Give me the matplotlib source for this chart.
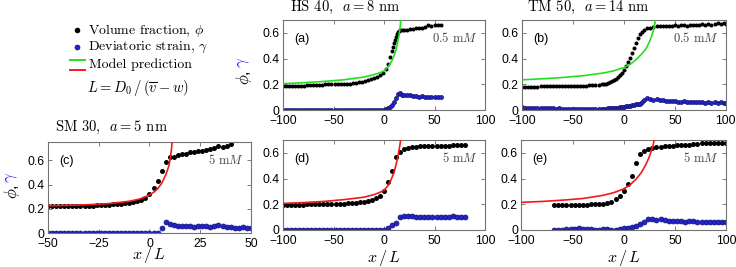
import numpy as np
import matplotlib
matplotlib.use('Agg')
import matplotlib.pyplot as plt
from matplotlib.lines import Line2D

plt.rcParams['font.family'] = ['Liberation Sans', 'DejaVu Sans']
plt.rcParams['mathtext.fontset'] = 'cm'
plt.rcParams['axes.unicode_minus'] = True

# ---------------- dati ----------------
# (a) HS 40, a = 8 nm, 0.5 mM
xa_phi = [-100, -97, -94, -91, -88, -85, -82, -79, -76, -73, -70, -67, -64, -61, -58, -55, -52,
          -49, -46, -43, -40, -37, -34, -31, -28, -25, -22, -19, -16, -13, -10, -7, -4, -1,
          2, 4, 6, 8, 9, 10, 11, 12, 13, 14, 15, 16, 18, 20,
          23, 26, 29, 32, 35, 38, 41, 44, 47, 50, 53, 56]
ya_phi = [0.19, 0.19, 0.19, 0.19, 0.19, 0.19, 0.19, 0.19, 0.195, 0.195, 0.195, 0.195, 0.195, 0.195,
          0.2, 0.2, 0.2, 0.2, 0.2, 0.2, 0.2, 0.205, 0.205, 0.21, 0.21, 0.215, 0.22, 0.225, 0.23,
          0.24, 0.25, 0.26, 0.27, 0.29,
          0.32, 0.36, 0.41, 0.46, 0.49, 0.52, 0.545, 0.57, 0.59, 0.61, 0.615, 0.62, 0.62, 0.62,
          0.625, 0.63, 0.63, 0.635, 0.64, 0.64, 0.645, 0.66, 0.65, 0.66, 0.665, 0.66]
xa_gam = [-100, -97, -94, -91, -88, -85, -82, -79, -76, -73, -70, -67, -64, -61, -58, -55, -52,
          -49, -46, -43, -40, -37, -34, -31, -28, -25, -22, -19, -16, -13, -10, -7, -4, -1,
          2, 4, 6, 8, 10, 12, 14, 16, 18, 20, 23, 26, 29, 32, 35, 38, 41, 44, 47, 50, 53, 56]
ya_gam = [0.003] * 34 + [0.008, 0.015, 0.025, 0.04, 0.06, 0.09, 0.125, 0.13, 0.12, 0.12, 0.115,
                         0.115, 0.11, 0.11, 0.105, 0.11, 0.1, 0.105, 0.1, 0.105, 0.1, 0.1]
xa_mod = [-100, -80, -60, -40, -20, -10, -4, 0, 4, 8, 11, 13, 14.5, 15.5, 16.3, 17]
ya_mod = [0.205, 0.212, 0.222, 0.235, 0.256, 0.275, 0.29, 0.305, 0.335, 0.385, 0.445, 0.505, 0.565,
          0.62, 0.67, 0.74]

# (b) TM 50, a = 14 nm, 0.5 mM
xb = [-100, -97, -94, -91, -88, -85, -82, -79, -76, -73, -70, -67, -64, -61, -58, -55, -52, -49,
      -46, -43, -40, -37, -34, -31, -28, -25, -22,
      -20, -18, -16, -14, -12, -10, -8, -6, -4, -2, 0, 2, 4, 6, 8, 10, 12, 14, 16, 18, 20,
      23, 26, 29, 32, 35, 38, 41, 44, 47, 50, 53, 56, 59, 62, 65, 68, 71, 74, 77, 80, 83, 86,
      89, 92, 95, 98, 100]
yb_phi = [0.178, 0.18, 0.18, 0.182, 0.18, 0.182, 0.183, 0.183, 0.185, 0.185, 0.185, 0.185, 0.186,
          0.186, 0.187, 0.187, 0.188, 0.188, 0.19, 0.19, 0.19, 0.19, 0.192, 0.193, 0.195, 0.197, 0.2,
          0.203, 0.206, 0.21, 0.215, 0.222, 0.23, 0.24, 0.255, 0.27, 0.29, 0.315, 0.34, 0.37, 0.405,
          0.44, 0.48, 0.52, 0.56, 0.59, 0.61, 0.625,
          0.635, 0.64, 0.645, 0.65, 0.655, 0.65, 0.655, 0.65, 0.655, 0.66, 0.655, 0.66, 0.66, 0.655,
          0.66, 0.665, 0.66, 0.665, 0.67, 0.665, 0.67, 0.665, 0.67, 0.675, 0.67, 0.675, 0.67]
yb_gam = [0.02, 0.018, 0.015, 0.017, 0.015, 0.014, 0.013, 0.014, 0.013, 0.012, 0.012, 0.011, 0.012,
          0.011, 0.01, 0.011, 0.01, 0.011, 0.01, 0.01, 0.009, 0.01, 0.01, 0.009, 0.01, 0.011, 0.01,
          0.01, 0.011, 0.012, 0.012, 0.013, 0.015, 0.016, 0.018, 0.02, 0.022, 0.025, 0.028, 0.031,
          0.034, 0.037, 0.04, 0.045, 0.05, 0.05, 0.06, 0.075,
          0.09, 0.085, 0.08, 0.088, 0.08, 0.074, 0.07, 0.068, 0.07, 0.067, 0.065, 0.066, 0.068,
          0.065, 0.062, 0.066, 0.063, 0.06, 0.064, 0.058, 0.062, 0.056, 0.06, 0.058, 0.06, 0.058, 0.058]
xb_mod = [-100, -80, -60, -40, -20, -10, 0, 7, 13, 18, 22, 25, 27.5, 29.3, 30.5, 31.2]
yb_mod = [0.235, 0.243, 0.253, 0.267, 0.288, 0.305, 0.33, 0.36, 0.4, 0.44, 0.48, 0.53, 0.58, 0.63, 0.68, 0.73]

# (c) SM 30, a = 5 nm, 5 mM
xc_phi = [-50, -48, -46, -44, -42, -40, -38, -36, -34, -32, -30, -28, -26, -24, -22, -20, -18,
          -16, -14, -12, -10, -8, -6, -4, -2,
          0, 2, 4, 6, 8, 10, 12, 14, 16, 18, 20, 22, 24, 26, 28, 30, 32, 34, 36, 38, 40]
yc_phi = [0.22, 0.22, 0.22, 0.22, 0.221, 0.222, 0.222, 0.223, 0.224, 0.225, 0.226, 0.227, 0.228,
          0.23, 0.232, 0.234, 0.236, 0.238, 0.241, 0.245, 0.25, 0.256, 0.264, 0.276, 0.29,
          0.32, 0.37, 0.43, 0.51, 0.585, 0.625, 0.63, 0.64, 0.65, 0.655, 0.665, 0.67, 0.68, 0.68,
          0.685, 0.69, 0.7, 0.715, 0.71, 0.72, 0.73]
xc_gam = [-50, -48, -46, -44, -42, -40, -38, -36, -34, -32, -30, -28, -26, -24, -22, -20, -18,
          -16, -14, -12, -10, -8, -6, -4, -2, 0, 2, 4,
          6, 8, 10, 12, 14, 16, 18, 20, 22, 24, 26, 28, 30, 32, 34, 36, 38, 40, 42, 44, 46, 48, 50]
yc_gam = [0.002] * 28 + [0.04, 0.095, 0.075, 0.065, 0.06, 0.055, 0.06, 0.055, 0.05, 0.06, 0.055,
                         0.055, 0.05, 0.055, 0.07, 0.06, 0.05, 0.05, 0.04, 0.045, 0.05, 0.04, 0.04]
xc_mod = [-50, -40, -30, -20, -10, -5, -2, 0, 2, 4, 6, 8, 9.5, 10.3, 10.9, 11.2]
yc_mod = [0.225, 0.228, 0.234, 0.243, 0.262, 0.28, 0.3, 0.315, 0.335, 0.365, 0.41, 0.48, 0.55,
          0.62, 0.7, 0.78]

# (d) HS 40, 5 mM
xd = [-100, -96, -92, -88, -84, -80, -76, -72, -68, -64, -60, -56, -52, -48, -44, -40, -36, -32,
      -28, -24, -20, -16, -12, -8, -4,
      0, 4, 8, 12, 16, 20, 24, 28, 32, 36, 40, 44, 48, 52, 56, 60, 64, 68, 72, 76, 80]
yd_phi = [0.195, 0.196, 0.197, 0.197, 0.198, 0.198, 0.199, 0.2, 0.2, 0.2, 0.201, 0.202, 0.202,
          0.203, 0.204, 0.205, 0.207, 0.209, 0.212, 0.215, 0.22, 0.226, 0.234, 0.246, 0.264,
          0.3, 0.37, 0.46, 0.57, 0.61, 0.63, 0.64, 0.645, 0.648, 0.65, 0.65, 0.652, 0.654, 0.655,
          0.655, 0.656, 0.657, 0.658, 0.658, 0.66, 0.66]
yd_gam = [0.003] * 26 + [0.015, 0.04, 0.055, 0.1, 0.11, 0.11, 0.105, 0.102, 0.1, 0.1, 0.1, 0.1,
                         0.1, 0.1, 0.103, 0.1, 0.105, 0.1, 0.1, 0.1]
xd_mod = [-100, -80, -60, -40, -20, -10, -4, 0, 4, 7, 10, 12, 14, 15.5, 16.7, 17.5]
yd_mod = [0.207, 0.213, 0.222, 0.236, 0.255, 0.275, 0.293, 0.31, 0.345, 0.39, 0.45, 0.51, 0.585,
          0.65, 0.71, 0.77]

# (e) TM 50, 5 mM
xe = [-68, -64, -60, -56, -52, -48, -44, -40, -36, -32, -28, -24, -20, -16, -12, -8, -4,
      0, 4, 8, 12, 16, 20, 24, 28, 32, 36, 40, 44, 48, 52, 56, 60, 64, 68, 72, 76, 80, 84, 88,
      92, 96, 100]
ye_phi = [0.195, 0.195, 0.195, 0.196, 0.196, 0.197, 0.197, 0.198, 0.198, 0.199, 0.2, 0.202, 0.205,
          0.21, 0.22, 0.24, 0.265,
          0.3, 0.36, 0.42, 0.52, 0.59, 0.615, 0.63, 0.64, 0.645, 0.648, 0.65, 0.652, 0.655, 0.658,
          0.66, 0.663, 0.665, 0.668, 0.67, 0.674, 0.675, 0.677, 0.678, 0.68, 0.68, 0.68]
ye_gam = [0.002, 0.002, 0.003, 0.005, 0.008, 0.01, 0.012, 0.01, 0.008, 0.005, 0.003, 0.003, 0.006,
          0.004, 0.002, 0.003, 0.006,
          0.012, 0.018, 0.022, 0.03, 0.045, 0.065, 0.082, 0.085, 0.078, 0.082, 0.075, 0.072, 0.07,
          0.07, 0.068, 0.066, 0.068, 0.07, 0.066, 0.064, 0.065, 0.063, 0.06, 0.062, 0.06, 0.06]
xe_mod = [-100, -80, -60, -40, -20, -10, 0, 6, 12, 17, 21, 24.5, 27, 28.8, 30, 30.8]
ye_mod = [0.215, 0.222, 0.232, 0.245, 0.27, 0.29, 0.32, 0.35, 0.395, 0.445, 0.5, 0.56, 0.615,
          0.665, 0.71, 0.77]

GREEN = '#22e01e'
RED = '#f21a1a'
BLUE = '#2424c8'
SERIF = 'cmr10'


def draw_panel(ax, xp, yp, xg, yg, xm, ym, col, letter, conc, xlim, xticks, ylim, ms):
    ax.plot(xm, ym, '-', color=col, lw=1.2, zorder=3)
    ax.plot(xp, yp, 'o', color='k', ms=ms, mew=0, zorder=2)
    ax.plot(xg, yg, 'o', color=BLUE, mec='#10107a', ms=ms, mew=0.5, zorder=2)
    ax.set_xlim(xlim)
    ax.set_ylim(ylim)
    ax.set_xticks(xticks)
    ax.set_yticks([0, 0.2, 0.4, 0.6])
    ax.set_yticklabels(['0', '0.2', '0.4', '0.6'])
    ax.tick_params(direction='in', top=True, right=True, length=3, width=0.6,
                   color='0.4', labelsize=8.7)
    ax.tick_params(axis='x', pad=3.5)
    ax.tick_params(axis='y', pad=2.5)
    for s in ax.spines.values():
        s.set_color('0.45')
        s.set_linewidth(0.8)
    ax.text(0.055, 0.79, letter, transform=ax.transAxes, fontsize=9, va='center')
    ax.text(0.965, 0.8, conc, transform=ax.transAxes, fontsize=9,
            family=SERIF, ha='right', va='center', color='0.25')


fig = plt.figure(figsize=(7.36, 2.67), dpi=100)

ax_a = fig.add_axes([0.3845, 0.588, 0.2745, 0.337])
ax_b = fig.add_axes([0.7095, 0.588, 0.2765, 0.337])
ax_c = fig.add_axes([0.0652, 0.127, 0.2758, 0.341])
ax_d = fig.add_axes([0.3845, 0.1386, 0.2745, 0.337])
ax_e = fig.add_axes([0.7085, 0.1386, 0.2780, 0.337])

big = [-100, -50, 0, 50, 100]
draw_panel(ax_a, xa_phi, ya_phi, xa_gam, ya_gam, xa_mod, ya_mod, GREEN, '(a)',
           r'0.5 m$M$', (-100, 100), big, (0, 0.7), 2.9)
draw_panel(ax_b, xb, yb_phi, xb, yb_gam, xb_mod, yb_mod, GREEN, '(b)',
           r'0.5 m$M$', (-100, 100), big, (0, 0.7), 2.9)
draw_panel(ax_c, xc_phi, yc_phi, xc_gam, yc_gam, xc_mod, yc_mod, RED, '(c)',
           r'5 m$M$', (-50, 50), [-50, -25, 0, 25, 50], (0, 0.75), 3.6)
draw_panel(ax_d, xd, yd_phi, xd, yd_gam, xd_mod, yd_mod, RED, '(d)',
           r'5 m$M$', (-100, 100), big, (0, 0.7), 3.6)
draw_panel(ax_e, xe, ye_phi, xe, ye_gam, xe_mod, ye_mod, RED, '(e)',
           r'5 m$M$', (-100, 100), big, (0, 0.7), 3.6)

# titoli
ax_a.text(0.035, 1.05, r'HS 40,  $a = 8$ nm', transform=ax_a.transAxes, fontsize=10.5,
          family=SERIF, va='bottom')
ax_b.text(0.025, 1.05, r'TM 50,  $a = 14$ nm', transform=ax_b.transAxes, fontsize=10.5,
          family=SERIF, va='bottom')
ax_c.text(0.035, 1.07, r'SM 30,  $a = 5$ nm', transform=ax_c.transAxes, fontsize=10.5,
          family=SERIF, va='bottom')

# etichette asse x
ax_c.text(0.5, -0.245, r'$x\,/\,L$', transform=ax_c.transAxes, fontsize=11.5,
          ha='center', va='center')
for ax in (ax_d, ax_e):
    ax.text(0.5, -0.31, r'$x\,/\,L$', transform=ax.transAxes, fontsize=11.5,
            ha='center', va='center')

# etichette asse y (phi nero, gamma blu)
for xf, yphi, ygam in ((0.0163, 0.281, 0.337), (0.3315, 0.708, 0.766)):
    fig.text(xf, yphi, r'$\phi$,', rotation=90, fontsize=12, ha='center', va='center')
    fig.text(xf, ygam, r'$\gamma$', rotation=90, fontsize=12, ha='center', va='center',
             color='#2a2aff')

# legenda
fig.add_artist(Line2D([0.1046], [0.8876], marker='o', color='k', ms=4, mew=0,
                      transform=fig.transFigure))
fig.add_artist(Line2D([0.1046], [0.824], marker='o', color=BLUE, mec='#10107a', ms=3.6,
                      mew=0.5, transform=fig.transFigure))
fig.add_artist(Line2D([0.0951, 0.1155], [0.7753, 0.7753], color=GREEN, lw=1.4,
                      transform=fig.transFigure))
fig.add_artist(Line2D([0.0951, 0.1155], [0.7378, 0.7378], color=RED, lw=1.4,
                      transform=fig.transFigure))
fig.text(0.1196, 0.8876, r'Volume fraction, $\phi$', va='center', family=SERIF, fontsize=10)
fig.text(0.1196, 0.824, r'Deviatoric strain, $\gamma$', va='center', family=SERIF, fontsize=10)
fig.text(0.121, 0.7566, 'Model prediction', va='center', family=SERIF, fontsize=10)
fig.text(0.118, 0.6704, r'$L = D_0\,/\,(\overline{v} - w)$', va='center', fontsize=10.5)

fig.savefig('out.png', dpi=100)
